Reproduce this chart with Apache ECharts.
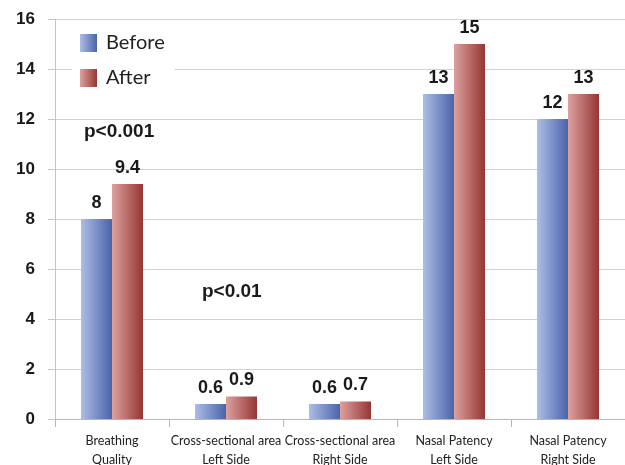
<!DOCTYPE html>
<html>
<head>
<meta charset="utf-8">
<script src="https://cdn.jsdelivr.net/npm/echarts@6/dist/echarts.min.js"></script>
<style>
  html, body { margin: 0; padding: 0; background: #fff; }
  #chart { width: 625px; height: 465px; }
</style>
</head>
<body>
<div id="chart"></div>
<script>
// Measurements before and after treatment
const categories = [
  'Breathing\nQuality',
  'Cross-sectional area\nLeft Side',
  'Cross-sectional area\nRight Side',
  'Nasal Patency\nLeft Side',
  'Nasal Patency\nRight Side'
];
const beforeValues = [8, 0.6, 0.6, 13, 12];
const afterValues = [9.4, 0.9, 0.7, 15, 13];
const yTicks = { min: 0, max: 16, interval: 2 };

const BOLD_FONT = '"Liberation Sans", Arial, sans-serif';
const TEXT_FONT = 'Lato, "Open Sans", sans-serif';

function hGrad(from, to) {
  return new echarts.graphic.LinearGradient(0, 0, 1, 0, [
    { offset: 0, color: from },
    { offset: 1, color: to }
  ]);
}
const blueFill = hGrad('#aebde6', '#4a64aa');
const redFill = hGrad('#dca19f', '#963634');

const valueLabel = {
  show: true,
  position: 'top',
  distance: 7,
  fontFamily: BOLD_FONT,
  fontWeight: 'bold',
  fontSize: 18,
  color: '#1a1a1a'
};

const chart = echarts.init(document.getElementById('chart'), null, { renderer: 'canvas' });
chart.setOption({
  animation: false,
  backgroundColor: '#ffffff',
  grid: { left: 55, right: 0, top: 19, bottom: 46, containLabel: false, outerBoundsMode: 'none' },
  legend: {
    left: 72,
    top: 26,
    orient: 'vertical',
    itemWidth: 17,
    itemHeight: 18,
    itemGap: 15,
    padding: [7, 10, 6, 8],
    backgroundColor: '#ffffff',
    icon: 'rect',
    textStyle: { fontFamily: TEXT_FONT, fontSize: 20, color: '#222', padding: [0, 0, 0, 4] },
    data: [
      { name: 'Before', itemStyle: { color: blueFill } },
      { name: 'After', itemStyle: { color: redFill } }
    ]
  },
  xAxis: {
    type: 'category',
    data: categories,
    axisLine: { lineStyle: { color: '#b5b5b5', width: 1 } },
    axisTick: { show: true, alignWithLabel: false, length: 8, lineStyle: { color: '#b5b5b5' } },
    axisLabel: {
      interval: 0,
      margin: 12,
      fontFamily: TEXT_FONT,
      fontSize: 12.5,
      lineHeight: 19,
      color: '#222'
    }
  },
  yAxis: {
    type: 'value',
    min: yTicks.min,
    max: yTicks.max,
    interval: yTicks.interval,
    axisLine: { show: true, lineStyle: { color: '#c4c4c4' } },
    axisTick: { show: true, length: 7, lineStyle: { color: '#c4c4c4' } },
    splitLine: { lineStyle: { color: '#d2d2d2', width: 1 } },
    axisLabel: {
      margin: 20,
      fontFamily: BOLD_FONT,
      fontWeight: 'bold',
      fontSize: 17,
      color: '#1a1a1a'
    }
  },
  series: [
    {
      name: 'Before',
      type: 'bar',
      data: beforeValues,
      barWidth: 31,
      barGap: '0%',
      itemStyle: { color: blueFill },
      label: valueLabel,
      z: 3
    },
    {
      name: 'After',
      type: 'bar',
      data: afterValues,
      barWidth: 31,
      barGap: '0%',
      itemStyle: { color: redFill },
      label: valueLabel,
      z: 3
    }
  ],
  graphic: [
    {
      type: 'text',
      left: 84,
      top: 122,
      style: { text: 'p<0.001', fontFamily: BOLD_FONT, fontWeight: 'bold', fontSize: 19, fill: '#1a1a1a' }
    },
    {
      type: 'text',
      left: 202,
      top: 282,
      style: { text: 'p<0.01', fontFamily: BOLD_FONT, fontWeight: 'bold', fontSize: 19, fill: '#1a1a1a' }
    }
  ]
});
</script>
</body>
</html>
